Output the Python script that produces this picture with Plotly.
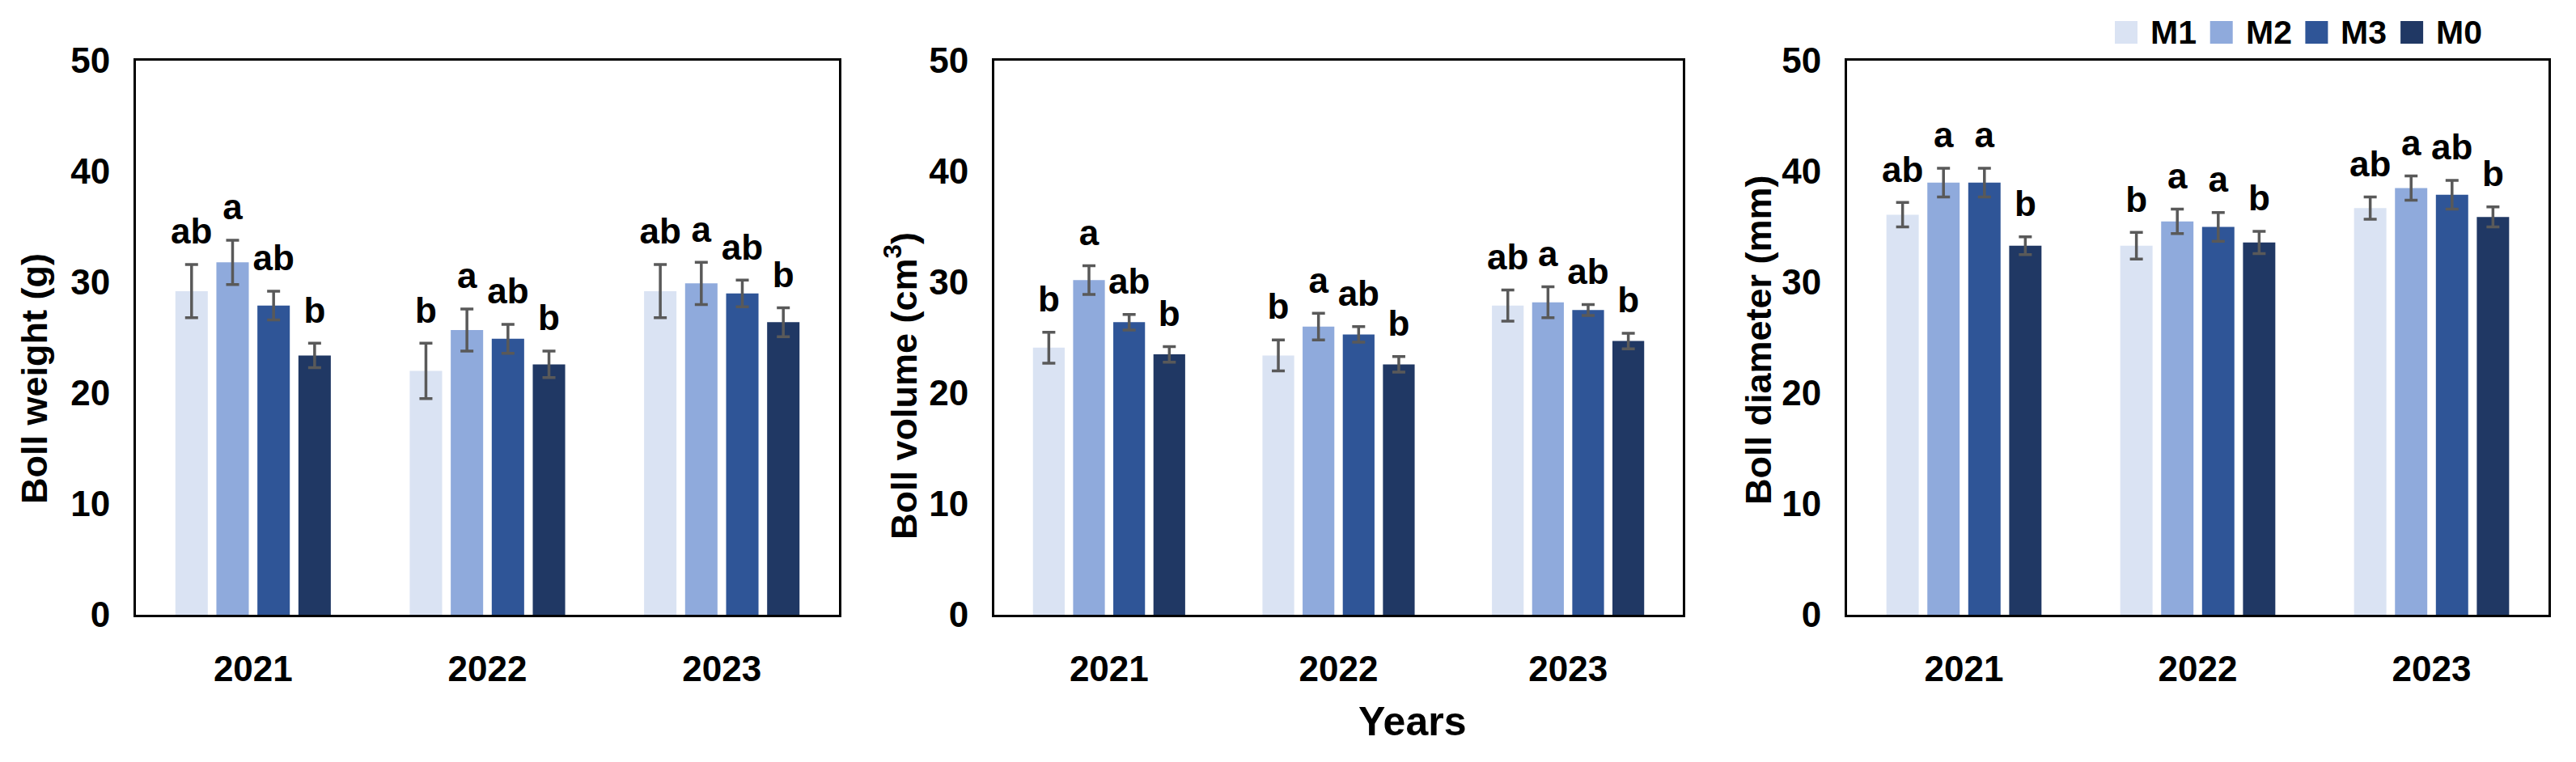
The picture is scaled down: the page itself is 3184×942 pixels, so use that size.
import plotly.graph_objects as go

W, H = 3184, 942

years = ["2021", "2022", "2023"]
treatments = ["M1", "M2", "M3", "M0"]
colors = ["#DAE3F3", "#8FAADC", "#2F5597", "#203864"]

# Boll weight (g)
weight_mean = {
    "M1": [29.2, 22.0, 29.2],
    "M2": [31.8, 25.7, 29.9],
    "M3": [27.9, 24.9, 29.0],
    "M0": [23.4, 22.6, 26.4],
}
weight_sd = {
    "M1": [2.4, 2.5, 2.4],
    "M2": [2.0, 1.9, 1.9],
    "M3": [1.3, 1.3, 1.2],
    "M0": [1.1, 1.2, 1.3],
}
weight_letters = {
    "M1": ["ab", "b", "ab"],
    "M2": ["a", "a", "a"],
    "M3": ["ab", "ab", "ab"],
    "M0": ["b", "b", "b"],
}

# Boll volume (cm3)
volume_mean = {
    "M1": [24.1, 23.4, 27.9],
    "M2": [30.2, 26.0, 28.2],
    "M3": [26.4, 25.3, 27.5],
    "M0": [23.5, 22.6, 24.7],
}
volume_sd = {
    "M1": [1.4, 1.4, 1.4],
    "M2": [1.3, 1.2, 1.4],
    "M3": [0.7, 0.7, 0.5],
    "M0": [0.7, 0.7, 0.7],
}
volume_letters = {
    "M1": ["b", "b", "ab"],
    "M2": ["a", "a", "a"],
    "M3": ["ab", "ab", "ab"],
    "M0": ["b", "b", "b"],
}

# Boll diameter (mm)
diameter_mean = {
    "M1": [36.1, 33.3, 36.7],
    "M2": [39.0, 35.5, 38.5],
    "M3": [39.0, 35.0, 37.9],
    "M0": [33.3, 33.6, 35.9],
}
diameter_sd = {
    "M1": [1.1, 1.2, 1.0],
    "M2": [1.3, 1.1, 1.1],
    "M3": [1.3, 1.3, 1.3],
    "M0": [0.8, 1.0, 0.9],
}
diameter_letters = {
    "M1": ["ab", "b", "ab"],
    "M2": ["a", "a", "a"],
    "M3": ["a", "a", "ab"],
    "M0": ["b", "b", "b"],
}

y_titles = ["Boll weight (g)", "Boll volume (cm<sup>3</sup>)", "Boll diameter (mm)"]
x_title = "Years"
y_ticks = [0, 10, 20, 30, 40, 50]

panels = [
    (weight_mean, weight_sd, weight_letters),
    (volume_mean, volume_sd, volume_letters),
    (diameter_mean, diameter_sd, diameter_letters),
]

FONT = "Arial, 'Liberation Sans', sans-serif"

# layout geometry (figure pixels)
x_domains_px = [(160, 1029), (1221, 2072), (2275, 3142)]
y_domain_px = (67, 752)

fig = go.Figure()

for p, (mean, sd, letters) in enumerate(panels):
    xa = "x" if p == 0 else f"x{p+1}"
    ya = "y" if p == 0 else f"y{p+1}"
    for i, t in enumerate(treatments):
        fig.add_trace(go.Bar(
            x=years, y=mean[t], name=t,
            marker=dict(color=colors[i], line=dict(width=0)),
            error_y=dict(type="data", array=sd[t], visible=True,
                         color="#595959", thickness=3.5, width=8),
            xaxis=xa, yaxis=ya, showlegend=False, offsetgroup=t,
        ))
    for i, t in enumerate(treatments):
        tops = [m + s for m, s in zip(mean[t], sd[t])]
        fig.add_trace(go.Scatter(
            x=years, y=tops, mode="markers+text", text=letters[t],
            textposition="top center",
            marker=dict(size=22, color="rgba(0,0,0,0)"),
            textfont=dict(family=FONT, size=44, color="black", weight="bold"),
            xaxis=xa, yaxis=ya, showlegend=False, cliponaxis=False,
            offsetgroup=t, hoverinfo="skip",
        ))

layout = dict(
    template="none",
    width=W, height=H,
    margin=dict(l=0, r=0, t=0, b=0, autoexpand=False),
    paper_bgcolor="white", plot_bgcolor="white",
    barmode="group", bargap=0.30, bargroupgap=0.21,
    scattermode="group", scattergap=0.30,
    font=dict(family=FONT, color="black"),
    showlegend=False,
)

yd = [(H - y_domain_px[1]) / H, (H - y_domain_px[0]) / H]
for p in range(3):
    xk = "xaxis" if p == 0 else f"xaxis{p+1}"
    yk = "yaxis" if p == 0 else f"yaxis{p+1}"
    x0, x1 = x_domains_px[p]
    layout[xk] = dict(
        domain=[x0 / W, x1 / W], anchor="y" if p == 0 else f"y{p+1}",
        type="category", categoryorder="array", categoryarray=years,
        showline=True, mirror=True, linecolor="black", linewidth=3,
        ticks="", showgrid=False, zeroline=False, automargin=False,
        tickfont=dict(family=FONT, size=44, color="black", weight="bold"),
        ticklabelstandoff=26,
    )
    layout[yk] = dict(
        domain=yd, anchor="x" if p == 0 else f"x{p+1}",
        range=[0, 50], tickvals=y_ticks,
        showline=True, mirror=True, linecolor="black", linewidth=3,
        ticks="", showgrid=False, zeroline=False, automargin=False,
        tickfont=dict(family=FONT, size=44, color="black", weight="bold"),
        ticklabelstandoff=20,
    )

fig.update_layout(**layout)

annotations = []
# y-axis titles
title_pos = [(34, 460), (1106, 469), (2165, 412)]
for p in range(3):
    cx, cy = title_pos[p]
    annotations.append(dict(
        text=y_titles[p], xref="paper", yref="paper",
        x=cx / W, y=(H - cy) / H, xanchor="center", yanchor="middle",
        textangle=-90, showarrow=False,
        font=dict(family=FONT, size=45, color="black", weight="bold"),
    ))
# x-axis title
annotations.append(dict(
    text=x_title, xref="paper", yref="paper",
    x=1738 / W, y=(H - 884) / H, xanchor="center", yanchor="middle",
    showarrow=False,
    font=dict(family=FONT, size=50, color="black", weight="bold"),
))

# manual legend (large square swatches)
shapes = []
leg_x0, leg_step, sq, leg_cy = 2606, 117.7, 28, 32
for i, t in enumerate(treatments):
    sx = leg_x0 + i * leg_step
    shapes.append(dict(
        type="rect", xref="paper", yref="paper",
        x0=sx / W, x1=(sx + sq) / W,
        y0=(H - (leg_cy + sq / 2)) / H, y1=(H - (leg_cy - sq / 2)) / H,
        fillcolor=colors[i], line=dict(width=0),
    ))
    annotations.append(dict(
        text=t, xref="paper", yref="paper",
        x=(sx + sq + 14) / W, y=(H - leg_cy) / H,
        xanchor="left", yanchor="middle", showarrow=False,
        font=dict(family=FONT, size=41, color="black", weight="bold"),
    ))

fig.update_layout(annotations=annotations, shapes=shapes)

fig.write_html("out.html")
